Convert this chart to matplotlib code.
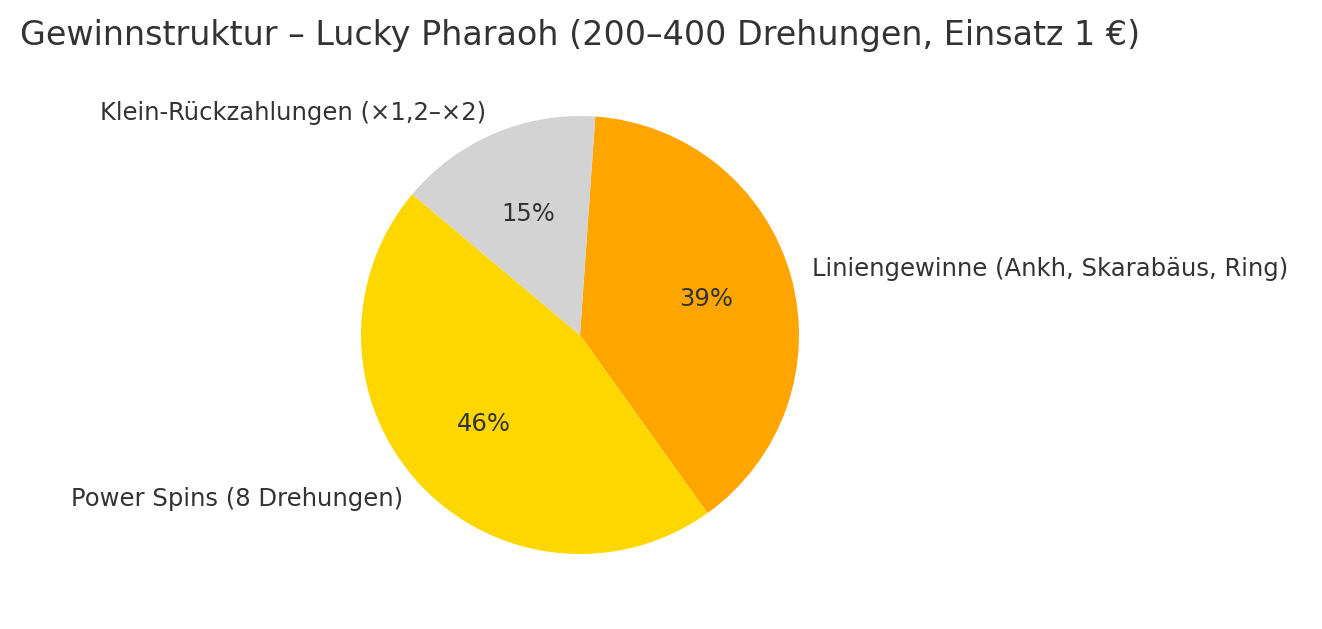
import matplotlib
matplotlib.use("Agg")
import matplotlib.pyplot as plt

labels = ["Liniengewinne (Ankh, Skarabäus, Ring)", "Power Spins (8 Drehungen)", "Klein-Rückzahlungen (×1,2–×2)"]
values = [39, 46, 15]
colors = ["#FFA500", "#FFD700", "#D3D3D3"]

fig = plt.figure(figsize=(13.22, 6.29), dpi=100)
ax = fig.add_axes([580/1322 - 219/1322, 1 - (335+219)/629, 438/1322, 438/629])
wedges, texts, autotexts = ax.pie(values, labels=labels, colors=colors, startangle=86,
                                  counterclock=False, autopct="%1.0f%%",
                                  labeldistance=1.1, pctdistance=0.6,
                                  textprops={"fontsize": 17.5, "color": "#333333"})
ax.set_xlim(-1, 1)
ax.set_ylim(-1, 1)
ax.set_aspect("equal")
fig.text(20/1322, 1 - 36/629, "Gewinnstruktur – Lucky Pharaoh (200–400 Drehungen, Einsatz 1 €)",
         fontsize=24, color="#333333", va="center", ha="left")
fig.savefig("out.png", dpi=100)
